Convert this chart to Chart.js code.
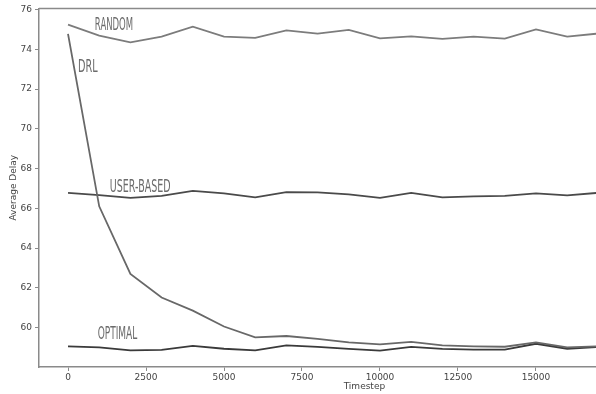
<!DOCTYPE html>
<html>
<head>
<meta charset="utf-8">
<script src="https://cdn.jsdelivr.net/npm/chart.js@4.4.0/dist/chart.umd.min.js"></script>
<style>
  html, body { margin: 0; padding: 0; background: #fff; }
  #wrap { width: 596px; height: 394px; }
</style>
</head>
<body>
<div id="wrap"><canvas id="delayChart" width="596" height="394"></canvas></div>
<script>
// timesteps and average delay per policy
var timesteps = [0, 1000, 2000, 3000, 4000, 5000, 6000, 7000, 8000, 9000, 10000, 11000, 12000, 13000, 14000, 15000, 16000, 17000];
var randomDelay = [75.25, 74.7, 74.36, 74.64, 75.15, 74.64, 74.58, 74.96, 74.8, 74.98, 74.56, 74.66, 74.53, 74.64, 74.54, 75.01, 74.64, 74.8];
var drlDelay = [74.78, 66.1, 62.7, 61.51, 60.85, 60.05, 59.5, 59.57, 59.43, 59.25, 59.15, 59.27, 59.1, 59.05, 59.03, 59.25, 59.0, 59.05];
var userBasedDelay = [66.78, 66.66, 66.53, 66.63, 66.88, 66.75, 66.55, 66.81, 66.8, 66.7, 66.53, 66.78, 66.55, 66.6, 66.63, 66.75, 66.65, 66.78];
var optimalDelay = [59.05, 59.0, 58.85, 58.87, 59.07, 58.93, 58.85, 59.1, 59.02, 58.92, 58.83, 59.02, 58.92, 58.88, 58.88, 59.18, 58.93, 59.02];
var xTicks = [0, 2500, 5000, 7500, 10000, 12500, 15000];
var yTicks = [60, 62, 64, 66, 68, 70, 72, 74, 76];

function toPoints(values) {
    return values.map(function (v, i) { return { x: timesteps[i], y: v }; });
}

// top spine, x title and the inline series names
var decorPlugin = {
    id: 'decor',
    afterDraw: function (chart, args, opts) {
        var ctx = chart.ctx;
        var area = chart.chartArea;
        var xs = chart.scales.x, ys = chart.scales.y;
        ctx.save();
        ctx.strokeStyle = '#8a8a8a';
        ctx.lineWidth = 1.5;
        ctx.beginPath();
        ctx.moveTo(area.left, area.top);
        ctx.lineTo(area.right, area.top);
        ctx.stroke();

        ctx.fillStyle = '#444';
        ctx.font = '9px "DejaVu Sans"';
        ctx.textAlign = 'center';
        ctx.textBaseline = 'middle';
        ctx.fillText('Timestep', xs.getPixelForValue(opts.xTitleAt), 387);

        ctx.fillStyle = '#6b6b6b';
        ctx.font = '17px "DejaVu Sans"';
        ctx.textAlign = 'left';
        opts.labels.forEach(function (l) {
            var px = xs.getPixelForValue(l.x);
            var py = ys.getPixelForValue(l.y);
            ctx.save();
            ctx.translate(px, py);
            ctx.scale(l.sx, 1);
            ctx.fillText(l.text, 0, 0);
            ctx.restore();
        });
        ctx.restore();
    }
};

var ctx = document.getElementById('delayChart').getContext('2d');
var delayChart = new Chart(ctx, {
    type: 'line',
    data: {
        datasets: [{
            label: 'RANDOM',
            data: toPoints(randomDelay),
            borderColor: '#7c7c7c',
            borderWidth: 1.8
        }, {
            label: 'DRL',
            data: toPoints(drlDelay),
            borderColor: '#686868',
            borderWidth: 1.8
        }, {
            label: 'USER-BASED',
            data: toPoints(userBasedDelay),
            borderColor: '#4a4a4a',
            borderWidth: 1.8
        }, {
            label: 'OPTIMAL',
            data: toPoints(optimalDelay),
            borderColor: '#3a3a3a',
            borderWidth: 1.8
        }]
    },
    options: {
        responsive: false,
        animation: false,
        layout: { padding: { top: 8, right: 0, left: 0, bottom: 0 } },
        elements: { point: { radius: 0 }, line: { tension: 0 } },
        plugins: {
            legend: { display: false },
            tooltip: { enabled: false },
            decor: {
                xTitleAt: 9500,
                labels: [
                    { text: 'RANDOM', x: 860, y: 75.2, sx: 0.5 },
                    { text: 'DRL', x: 320, y: 73.1, sx: 0.57 },
                    { text: 'USER-BASED', x: 1340, y: 67.05, sx: 0.56 },
                    { text: 'OPTIMAL', x: 950, y: 59.62, sx: 0.53 }
                ]
            }
        },
        scales: {
            x: {
                type: 'linear',
                min: -930,
                max: 16924,
                afterFit: function (s) { s.height = 27; },
                afterBuildTicks: function (s) { s.ticks = xTicks.map(function (v) { return { value: v }; }); },
                ticks: {
                    color: '#444', font: { size: 9, family: 'DejaVu Sans' }, padding: 1, maxRotation: 0, includeBounds: false,
                    callback: function (v) { return String(v); }
                },
                grid: { display: true, drawOnChartArea: false, drawTicks: true, tickLength: 4, color: '#8a8a8a', lineWidth: 1 },
                border: { display: true, color: '#8a8a8a', width: 1.5 }
            },
            y: {
                type: 'linear',
                min: 58.01,
                max: 76.065,
                afterFit: function (s) { s.width = 39; },
                afterBuildTicks: function (s) { s.ticks = yTicks.map(function (v) { return { value: v }; }); },
                ticks: {
                    color: '#444', font: { size: 9, family: 'DejaVu Sans' }, padding: 3, includeBounds: false,
                    callback: function (v) { return String(v); }
                },
                grid: { display: true, drawOnChartArea: false, drawTicks: true, tickLength: 4, color: '#8a8a8a', lineWidth: 1 },
                border: { display: true, color: '#8a8a8a', width: 1.5 },
                title: { display: true, text: 'Average Delay', color: '#444', font: { size: 9, family: 'DejaVu Sans' }, padding: { top: 8, bottom: 0 } }
            }
        }
    },
    plugins: [decorPlugin]
});
</script>
</body>
</html>
